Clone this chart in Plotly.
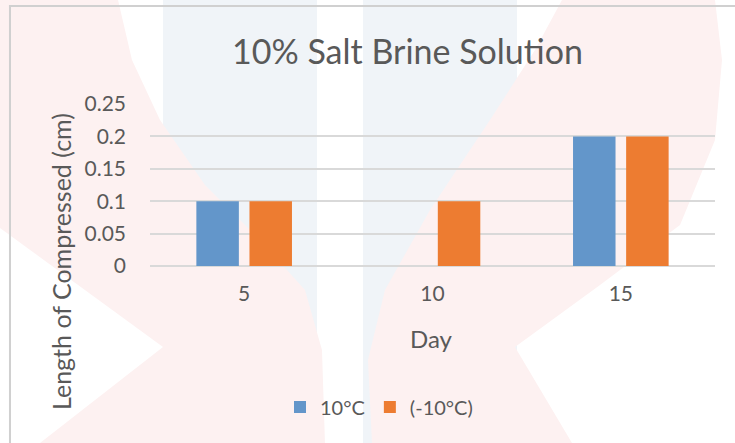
import plotly.graph_objects as go

# Compression measurements per day for each storage temperature
days = ["5", "10", "15"]
warm_label = "10°C"
cold_label = "(-10°C)"
warm_values = [0.1, None, 0.2]
cold_values = [0.1, 0.1, 0.2]
y_ticks = [0, 0.05, 0.1, 0.15, 0.2, 0.25]
y_tick_text = ["0", "0.05", "0.1", "0.15", "0.2", "0.25"]

W, H = 735, 443
L, R, T, B = 150, 20, 104, 177
PW, PH = W - L - R, H - T - B

FONT = "Lato"
GREY = "#595959"


def px(x, y):
    """Pixel position on the page -> paper coordinates."""
    return (x - L) / PW, (H - B - y) / PH


def path(points):
    pts = [px(x, y) for x, y in points]
    d = "M {:.4f},{:.4f}".format(*pts[0])
    for p in pts[1:]:
        d += " L {:.4f},{:.4f}".format(*p)
    return d + " Z"


fig = go.Figure()
fig.add_bar(x=days, y=warm_values, name=warm_label, marker_color="#6396CA",
            marker_line_width=0)
fig.add_bar(x=days, y=cold_values, name=cold_label, marker_color="#ED7C31",
            marker_line_width=0)

shapes = []
# faint background emblem
blue = "#F0F4F8"
red = "#FDF1F1"
for x0, x1 in [(163, 317), (363, 517)]:
    shapes.append(dict(type="path", xref="paper", yref="paper",
                       path=path([(x0, 0), (x1, 0), (x1, H), (x0, H)]),
                       fillcolor=blue, line_width=0, layer="below"))
left_red = [(0, 0), (118, 0), (132, 60), (160, 120), (205, 185), (260, 240),
            (305, 290), (322, 350), (325, 443), (0, 443)]
right_red = [(562, 0), (715, 0), (722, 60), (715, 140), (680, 225), (600, 285),
             (515, 347), (572, 443), (372, 443), (368, 360), (385, 290),
             (430, 210), (490, 120), (535, 50)]
for poly in (left_red, right_red):
    shapes.append(dict(type="path", xref="paper", yref="paper", path=path(poly),
                       fillcolor=red, line_width=0, layer="below"))
shapes.append(dict(type="path", xref="paper", yref="paper",
                   path=path([(0, 228), (163, 347), (40, 443), (0, 443)]),
                   fillcolor="white", line_width=0, layer="below"))
# chart frame (left and top edges) as thin filled strips
for strip in ([(9, 5), (11, 5), (11, H), (9, H)], [(9, 5), (W, 5), (W, 7), (9, 7)]):
    shapes.append(dict(type="path", xref="paper", yref="paper", path=path(strip),
                       fillcolor="#D0D0D0", line_width=0, layer="below"))

tx, ty = px(407, 50)
dx, dy = px(431, 338)
yx, yy = px(61, 262)
lx, ly = px(379, 407)

fig.update_layout(
    width=W, height=H,
    margin=dict(l=L, r=R, t=T, b=B),
    paper_bgcolor="white",
    plot_bgcolor="rgba(0,0,0,0)",
    barmode="group",
    bargap=0.436,
    bargroupgap=0.2,
    font=dict(family=FONT, color=GREY),
    shapes=shapes,
    showlegend=True,
    legend=dict(orientation="h", x=lx, y=ly, xanchor="center", yanchor="middle",
                font=dict(size=20, color=GREY), bgcolor="rgba(0,0,0,0)",
                itemwidth=30, traceorder="normal"),
    annotations=[
        dict(text="10% Salt Brine Solution", x=tx, y=ty, xref="paper", yref="paper",
             xanchor="center", yanchor="middle", showarrow=False,
             font=dict(size=34, color=GREY)),
        dict(text="Day", x=dx, y=dy, xref="paper", yref="paper",
             xanchor="center", yanchor="middle", showarrow=False,
             font=dict(size=24, color=GREY)),
        dict(text="Length of Compressed (cm)", x=yx, y=yy, xref="paper", yref="paper",
             xanchor="center", yanchor="middle", textangle=-90, showarrow=False,
             font=dict(size=25, color=GREY)),
    ],
)
fig.update_xaxes(type="category", showgrid=False, showline=False, ticks="",
                 tickfont=dict(size=21, color=GREY), ticklabelstandoff=13,
                 zeroline=False)
fig.update_yaxes(range=[0, 0.25], tickvals=y_ticks, ticktext=y_tick_text,
                 showgrid=True, gridcolor="#D9D9D9", gridwidth=1.5,
                 zeroline=True, zerolinecolor="#D9D9D9", zerolinewidth=1.5,
                 showline=False, ticks="", tickfont=dict(size=21, color=GREY),
                 ticklabelstandoff=23)

fig.write_html("out.html")
